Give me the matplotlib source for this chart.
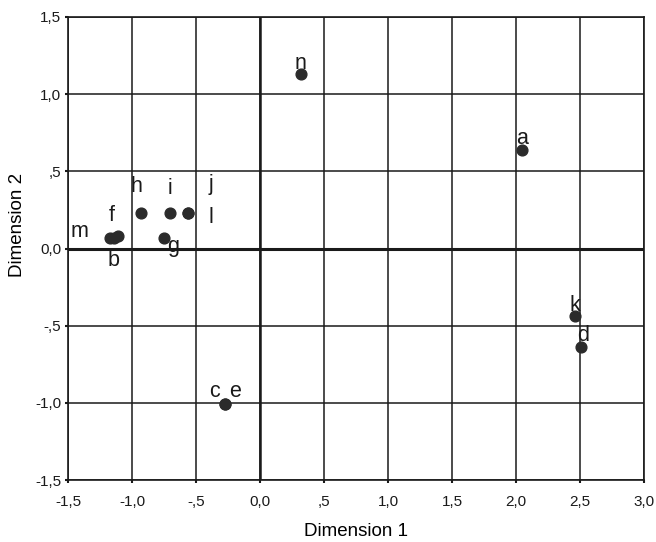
"""MDS object map: two-dimensional solution with labelled stimuli."""

import matplotlib
matplotlib.use("Agg")
import matplotlib.pyplot as plt
from matplotlib.ticker import FuncFormatter

plt.rcParams["font.family"] = ["Liberation Sans", "DejaVu Sans"]

# stimulus coordinates
labels = ["a", "b", "c", "d", "e", "f", "g", "h", "i", "j", "k", "l", "m", "n"]
dim1 = [2.05, -1.14, -0.27, 2.51, -0.27, -1.11, -0.75, -0.93, -0.70, -0.56, 2.46, -0.56, -1.17, 0.32]
dim2 = [0.64, 0.07, -1.01, -0.64, -1.01, 0.08, 0.07, 0.23, 0.23, 0.23, -0.44, 0.23, 0.07, 1.13]

ticks_x = [-1.5, -1.0, -0.5, 0.0, 0.5, 1.0, 1.5, 2.0, 2.5, 3.0]
ticks_y = [-1.5, -1.0, -0.5, 0.0, 0.5, 1.0, 1.5]

# label offsets (points) from each dot, so overlapping labels stay readable
offsets = {"a": (0, 8.2), "b": (-0.7, -16.3), "c": (-8, 9), "d": (1.5, 8.2),
           "e": (7, 9), "f": (-4.3, 14.7), "g": (6.5, -6.2), "h": (-3, 19),
           "i": (0, 17.5), "j": (16.5, 20.5), "k": (0, 7.5), "l": (16.5, -3.3),
           "m": (-22, 4.6), "n": (0, 7.5)}


def comma_fmt(v, _pos):
    s = f"{v:.1f}".replace(".", ",")
    if s.startswith("0,") and v != 0:
        s = s[1:]
    if s.startswith("-0,"):
        s = "-" + s[2:]
    return s


fig = plt.figure(figsize=(6.56, 5.42), dpi=100)
ax = fig.add_axes([68 / 656, 1 - 480 / 542, 576 / 656, 463 / 542])

ax.set_xlim(-1.5, 3.0)
ax.set_ylim(-1.5, 1.5)
ax.set_xticks(ticks_x)
ax.set_yticks(ticks_y)
ax.xaxis.set_major_formatter(FuncFormatter(comma_fmt))
ax.yaxis.set_major_formatter(FuncFormatter(comma_fmt))
ax.grid(True, color="#1a1a1a", linewidth=1.1)
ax.axhline(0, color="#1a1a1a", linewidth=2.2)
ax.axvline(0, color="#1a1a1a", linewidth=1.8)
ax.set_axisbelow(True)
for sp in ax.spines.values():
    sp.set_color("#1a1a1a")
    sp.set_linewidth(1.2)
ax.tick_params(direction="out", length=2.5, width=1.5, labelsize=11, colors="#1a1a1a")
ax.tick_params(axis="x", pad=8)
ax.tick_params(axis="y", pad=2.5)

ax.scatter(dim1, dim2, s=60, color="#2b2b2b", zorder=3)
for lab, x, y in zip(labels, dim1, dim2):
    dx, dy = offsets[lab]
    ax.annotate(lab, (x, y), xytext=(dx, dy), textcoords="offset points",
                ha="center", va="center", fontsize=15.5, color="#1a1a1a", zorder=4)

ax.set_xlabel("Dimension 1", fontsize=13.5)
ax.set_ylabel("Dimension 2", fontsize=13.5)
ax.xaxis.set_label_coords(0.5, -0.093)
ax.yaxis.set_label_coords(-0.073, 0.55)

fig.savefig("out.png", dpi=100, facecolor="white")
